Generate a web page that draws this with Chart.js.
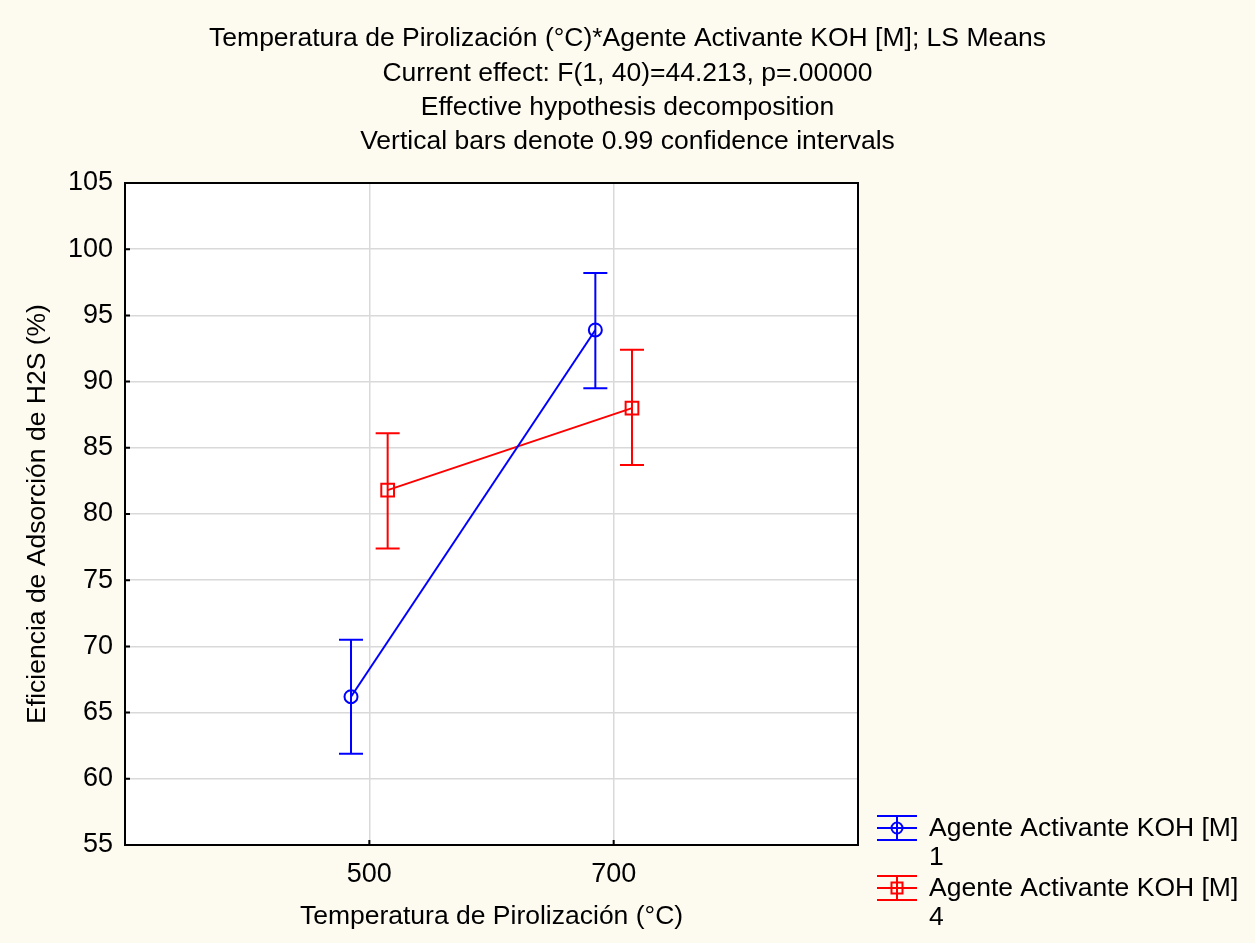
<!DOCTYPE html>
<html>
<head>
<meta charset="utf-8">
<script src="https://cdn.jsdelivr.net/npm/chart.js@4/dist/chart.umd.min.js"></script>
<style>
  html, body { margin: 0; padding: 0; background: #fdfaf0; }
  #contenedor { width: 1255px; height: 943px; }
</style>
</head>
<body>
<div id="contenedor"><canvas id="grafico" width="1255" height="943"></canvas></div>
<script>
// Datos (LS Means e intervalos de confianza 0.99)
const temperaturas = [500, 700];
const koh1Media = [66.2, 93.9];
const koh1Inferior = [61.9, 89.5];
const koh1Superior = [70.5, 98.2];
const koh4Media = [81.8, 88.0];
const koh4Inferior = [77.4, 83.7];
const koh4Superior = [86.1, 92.4];
const ticksY = [55, 60, 65, 70, 75, 80, 85, 90, 95, 100, 105];
const ticksX = [500, 700];

const titulos = [
  'Temperatura de Pirolización (°C)*Agente Activante KOH [M]; LS Means',
  'Current effect: F(1, 40)=44.213, p=.00000',
  'Effective hypothesis decomposition',
  'Vertical bars denote 0.99 confidence intervals'
];
const leyenda = [
  { texto: ['Agente Activante KOH [M]', '1'], color: '#0000ff', marca: 'circle' },
  { texto: ['Agente Activante KOH [M]', '4'], color: '#ff0000', marca: 'rect' }
];

const FUENTE = '"Liberation Sans", Arial, sans-serif';
const desplazamiento = 15; // separación horizontal entre grupos

function puntos(medias, inferiores, superiores, dx) {
  return temperaturas.map((t, i) => ({ x: t + dx, y: medias[i], lo: inferiores[i], hi: superiores[i] }));
}

// Fondo crema y área de trazado blanca
const fondo = {
  id: 'fondo',
  beforeDraw(chart) {
    const { ctx, chartArea: a } = chart;
    ctx.save();
    ctx.fillStyle = '#fdfaf0';
    ctx.fillRect(0, 0, chart.width, chart.height);
    ctx.fillStyle = '#ffffff';
    ctx.fillRect(a.left, a.top, a.right - a.left, a.bottom - a.top);
    ctx.restore();
  }
};

// Barras de error
const barrasError = {
  id: 'barrasError',
  beforeDatasetsDraw(chart) {
    const { ctx, scales: { x, y } } = chart;
    ctx.save();
    chart.data.datasets.forEach(ds => {
      ctx.strokeStyle = ds.borderColor;
      ctx.lineWidth = 2;
      ds.data.forEach(p => {
        const px = x.getPixelForValue(p.x);
        const yLo = y.getPixelForValue(p.lo);
        const yHi = y.getPixelForValue(p.hi);
        ctx.beginPath();
        ctx.moveTo(px, yLo); ctx.lineTo(px, yHi);
        ctx.moveTo(px - 12, yLo); ctx.lineTo(px + 12, yLo);
        ctx.moveTo(px - 12, yHi); ctx.lineTo(px + 12, yHi);
        ctx.stroke();
      });
    });
    ctx.restore();
  }
};

// Marco, marcas interiores, títulos y leyenda
const decoracion = {
  id: 'decoracion',
  afterDraw(chart) {
    const { ctx, chartArea: a, scales: { x, y } } = chart;
    ctx.save();
    ctx.strokeStyle = '#000';
    ctx.lineWidth = 2;
    ctx.strokeRect(a.left, a.top, a.right - a.left, a.bottom - a.top);
    ctx.beginPath();
    ticksY.forEach(v => {
      const py = y.getPixelForValue(v);
      ctx.moveTo(a.left, py); ctx.lineTo(a.left + 5, py);
    });
    ticksX.forEach(v => {
      const px = x.getPixelForValue(v);
      ctx.moveTo(px, a.bottom); ctx.lineTo(px, a.bottom - 5);
    });
    ctx.stroke();

    // títulos
    ctx.fillStyle = '#000';
    ctx.font = '26.5px ' + FUENTE;
    ctx.textAlign = 'center';
    ctx.textBaseline = 'middle';
    titulos.forEach((t, i) => ctx.fillText(t, chart.width / 2, 39 + i * 34.3));

    // leyenda
    ctx.font = '26.5px ' + FUENTE;
    ctx.textAlign = 'left';
    leyenda.forEach((item, i) => {
      const cy = 828 + i * 60;
      const cx = 897;
      ctx.strokeStyle = item.color;
      ctx.lineWidth = 2;
      ctx.beginPath();
      [-12, 0, 12].forEach(d => { ctx.moveTo(cx - 20, cy + d); ctx.lineTo(cx + 20, cy + d); });
      ctx.moveTo(cx, cy - 12); ctx.lineTo(cx, cy + 12);
      ctx.stroke();
      ctx.beginPath();
      if (item.marca === 'circle') ctx.arc(cx, cy, 5.5, 0, Math.PI * 2);
      else ctx.rect(cx - 5.5, cy - 5.5, 11, 11);
      ctx.stroke();
      ctx.fillStyle = '#000';
      ctx.fillText(item.texto[0], 929, cy + 1);
      ctx.fillText(item.texto[1], 929, cy + 30);
    });
    ctx.restore();
  }
};

const chart = new Chart(document.getElementById('grafico'), {
  type: 'scatter',
  data: {
    datasets: [
      {
        label: 'Agente Activante KOH [M] 1',
        data: puntos(koh1Media, koh1Inferior, koh1Superior, -desplazamiento),
        showLine: true,
        borderColor: '#0000ff',
        borderWidth: 2,
        pointStyle: 'circle',
        pointRadius: 6.5,
        pointBorderWidth: 2,
        pointBackgroundColor: 'rgba(0,0,0,0)',
        pointBorderColor: '#0000ff'
      },
      {
        label: 'Agente Activante KOH [M] 4',
        data: puntos(koh4Media, koh4Inferior, koh4Superior, desplazamiento),
        showLine: true,
        borderColor: '#ff0000',
        borderWidth: 2,
        pointStyle: 'rect',
        pointRadius: 9,
        pointBorderWidth: 2,
        pointBackgroundColor: 'rgba(0,0,0,0)',
        pointBorderColor: '#ff0000'
      }
    ]
  },
  options: {
    responsive: false,
    animation: false,
    layout: { padding: { top: 183, right: 397, bottom: 0, left: 0 } },
    plugins: {
      legend: { display: false },
      tooltip: { enabled: false }
    },
    scales: {
      x: {
        type: 'linear',
        min: 300,
        max: 900,
        afterBuildTicks: s => { s.ticks = ticksX.map(v => ({ value: v })); },
        afterFit: s => { s.height = 98; },
        grid: { color: '#d9d9d9', lineWidth: 1.5, drawTicks: false },
        border: { display: false },
        ticks: { color: '#000', padding: 13, font: { family: FUENTE, size: 27 } },
        title: {
          display: true,
          text: 'Temperatura de Pirolización (°C)',
          color: '#000',
          font: { family: FUENTE, size: 26.5 },
          padding: { top: 0, bottom: 10 }
        }
      },
      y: {
        min: 55,
        max: 105,
        afterBuildTicks: s => { s.ticks = ticksY.map(v => ({ value: v })); },
        afterFit: s => { s.width = 125; },
        grid: { color: '#d9d9d9', lineWidth: 1.5, drawTicks: false },
        border: { display: false },
        ticks: { color: '#000', padding: 12, font: { family: FUENTE, size: 27 } },
        title: {
          display: true,
          text: 'Eficiencia de Adsorción de H2S (%)',
          color: '#000',
          font: { family: FUENTE, size: 26.5 },
          padding: { top: 22, bottom: 0 }
        }
      }
    }
  },
  plugins: [fondo, barrasError, decoracion]
});
</script>
</body>
</html>
